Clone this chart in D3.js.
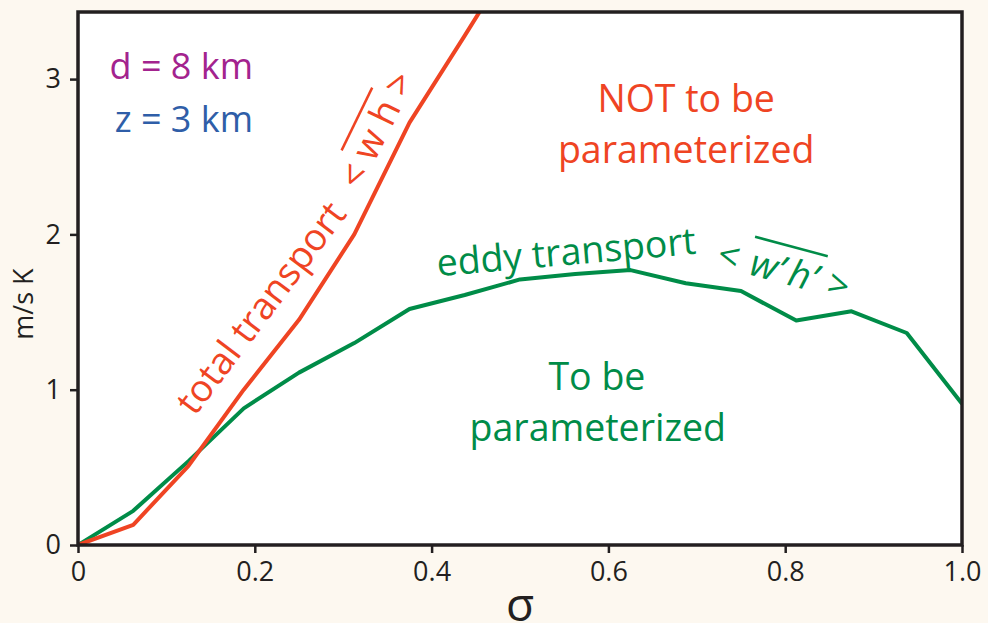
<!DOCTYPE html>
<html>
<head>
<meta charset="utf-8">
<script src="https://cdn.jsdelivr.net/npm/d3@7/dist/d3.min.js"></script>
<style>
  html, body { margin: 0; padding: 0; background: #fdf8f0; }
  svg { display: block; }
  text { font-family: 'Open Sans', 'Noto Sans', sans-serif; }
</style>
</head>
<body>
<div id="chart"></div>
<script>
// ── data ─────────────────────────────────────────────
const sigma = [0, 0.0625, 0.125, 0.1875, 0.25, 0.3125, 0.375, 0.4375, 0.5,
               0.5625, 0.625, 0.6875, 0.75, 0.8125, 0.875, 0.9375, 1.0];
const eddyTransport = [0, 0.22, 0.54, 0.88, 1.11, 1.30, 1.52, 1.61, 1.71,
                       1.745, 1.77, 1.685, 1.635, 1.445, 1.505, 1.365, 0.91];
const totalTransport = [0, 0.13, 0.51, 1.0, 1.45, 2.0, 2.72, 3.28, 3.85];
const xTicks = [0, 0.2, 0.4, 0.6, 0.8, 1.0];
const xTickLabels = ['0', '0.2', '0.4', '0.6', '0.8', '1.0'];
const yTicks = [0, 1, 2, 3];

const RED = '#ef4423', GREEN = '#008c48', PURPLE = '#a3238e', BLUE = '#2f5ea8', INK = '#231f20';

const W = 988, H = 623;
const M = { top: 12, right: 26, bottom: 78, left: 78 };
const iW = W - M.left - M.right, iH = H - M.top - M.bottom;

const x = d3.scaleLinear().domain([0, 1]).range([0, iW]);
const y = d3.scaleLinear().domain([0, 3.432]).range([iH, 0]);

const svg = d3.select('#chart').append('svg').attr('width', W).attr('height', H);
svg.append('rect').attr('width', W).attr('height', H).attr('fill', '#fdf8f0');

const g = svg.append('g').attr('transform', `translate(${M.left},${M.top})`);
g.append('rect').attr('width', iW).attr('height', iH).attr('fill', '#fff');

g.append('clipPath').attr('id', 'plot-clip')
  .append('rect').attr('width', iW).attr('height', iH);

// ── axes ─────────────────────────────────────────────
const xAxis = g.append('g').attr('transform', `translate(0,${iH})`)
  .call(d3.axisBottom(x).tickValues(xTicks).tickSize(8).tickPadding(9)
    .tickFormat((d, i) => xTickLabels[i]));
const yAxis = g.append('g')
  .call(d3.axisLeft(y).tickValues(yTicks).tickSize(8).tickPadding(9)
    .tickFormat(d3.format('d')));
[xAxis, yAxis].forEach(a => {
  a.select('.domain').remove();
  a.selectAll('line').attr('stroke', INK).attr('stroke-width', 2.5);
  a.selectAll('text').attr('fill', INK).attr('font-size', 27)
    .attr('font-family', "'Open Sans', sans-serif");
});

// ── lines ────────────────────────────────────────────
const line = d3.line().x(d => x(d[0])).y(d => y(d[1]));
const lines = g.append('g').attr('clip-path', 'url(#plot-clip)');
lines.append('path')
  .datum(sigma.map((s, i) => [s, eddyTransport[i]]))
  .attr('d', line).attr('fill', 'none').attr('stroke', GREEN)
  .attr('stroke-width', 4).attr('stroke-linejoin', 'round');
lines.append('path')
  .datum(totalTransport.map((v, i) => [sigma[i], v]))
  .attr('d', line).attr('fill', 'none').attr('stroke', RED)
  .attr('stroke-width', 4).attr('stroke-linejoin', 'round');

// frame
g.append('rect').attr('width', iW).attr('height', iH)
  .attr('fill', 'none').attr('stroke', INK).attr('stroke-width', 3.5);

// ── annotations ──────────────────────────────────────
const FS = 37.5;
function label(txt, xv, yv, color, anchor = 'middle', size = FS) {
  return g.append('text').attr('x', x(xv)).attr('y', y(yv))
    .attr('text-anchor', anchor).attr('fill', color)
    .attr('font-size', size).text(txt);
}
label('d = 8 km', 0.198, 3.0, PURPLE, 'end', 36);
label('z = 3 km', 0.198, 2.66, BLUE, 'end', 36);
label('NOT to be', 0.688, 2.788, RED);
label('parameterized', 0.688, 2.46, RED);
label('To be', 0.587, 1.0, GREEN);
label('parameterized', 0.588, 0.67, GREEN);

// rotated label, optionally with an overlined part
function rotatedLabel(parts, px, py, angle, color, overIdx, italicIdx, overY = -35) {
  const grp = g.append('g').attr('transform', `translate(${px},${py}) rotate(${angle})`);
  const t = grp.append('text').attr('fill', color).attr('font-size', FS)
    .style('white-space', 'pre');
  parts.forEach((p, i) => {
    t.append('tspan').text(p).attr('font-style', i === italicIdx ? 'italic' : null);
  });
  if (overIdx != null) {
    const node = t.node();
    let start = 0;
    for (let i = 0; i < overIdx; i++) start += parts[i].length;
    const len = parts[overIdx].length;
    const n = node.getNumberOfChars();
    const x0 = node.getStartPositionOfChar(Math.min(start, n - 1)).x;
    const x1 = node.getEndPositionOfChar(Math.min(start + len - 1, n - 1)).x;
    grp.append('line').attr('x1', x0 - 3).attr('x2', x1 + 5)
      .attr('y1', overY).attr('y2', overY)
      .attr('stroke', color).attr('stroke-width', 2.5);
  }
  return grp;
}

rotatedLabel(['total transport'], x(0.1322), y(0.824), -53, RED, null, null);
rotatedLabel(['< ', 'w h', ' >'], x(0.3198), y(2.279), -64, RED, 1, null);
rotatedLabel(['eddy transport'], x(0.407), y(1.73), -5, GREEN, null, null);
rotatedLabel(['<\u2009\u2009', 'w\u2019\u2009h\u2019', '\u2009\u2009>'],
  x(0.721), y(1.80), 15, GREEN, 1, 1, -38);

// axis titles
svg.append('text')
  .attr('transform', `translate(33,304) rotate(-90)`)
  .attr('text-anchor', 'middle').attr('fill', INK).attr('font-size', 27)
  .text('m/s K');
svg.append('text')
  .attr('x', x(0.5) + M.left).attr('y', 621)
  .attr('text-anchor', 'middle').attr('fill', INK).attr('font-size', 46)
  .attr('font-family', "'Liberation Serif', 'DejaVu Serif', serif")
  .text('σ');
</script>
</body>
</html>
